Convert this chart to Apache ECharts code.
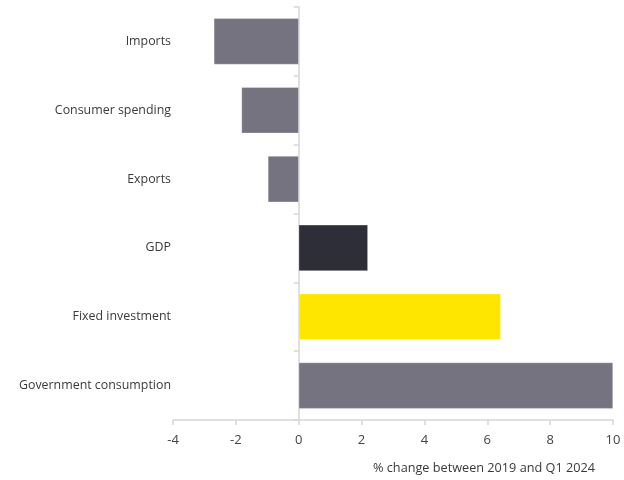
<!DOCTYPE html>
<html>
<head>
<meta charset="utf-8">
<script src="https://cdn.jsdelivr.net/npm/echarts@6/dist/echarts.min.js"></script>
<style>
  html, body { margin: 0; padding: 0; background: #ffffff; }
  #chart { width: 624px; height: 480px; }
</style>
</head>
<body>
<div id="chart"></div>
<script>
// Components of real GDP growth, top to bottom
const categories = ['Imports', 'Consumer spending', 'Exports', 'GDP', 'Fixed investment', 'Government consumption'];
const changes = [-2.7, -1.82, -0.98, 2.2, 6.43, 10.0];
const barColors = ['#75737f', '#75737f', '#75737f', '#2e2e38', '#ffe600', '#75737f'];
const xTicks = { min: -4, max: 10, interval: 2 };
const axisTitle = '% change between 2019 and Q1 2024';

const textColor = '#3a3a3a';
const lineColor = '#d6d6d9';
const fontFamily = '"Open Sans", "Noto Sans", sans-serif';

const chart = echarts.init(document.getElementById('chart'), null, { renderer: 'canvas' });

chart.setOption({
  animation: false,
  backgroundColor: '#ffffff',
  textStyle: { fontFamily: fontFamily },
  title: {
    text: axisTitle,
    right: 24,
    top: 457,
    textStyle: { fontSize: 12.7, fontWeight: 'normal', color: textColor, fontFamily: fontFamily }
  },
  grid: { left: 173, right: 11, top: 7, bottom: 60, containLabel: false },
  xAxis: {
    type: 'value',
    min: xTicks.min,
    max: xTicks.max,
    interval: xTicks.interval,
    axisLine: { show: true, onZero: false, lineStyle: { color: lineColor, width: 1.5 } },
    axisTick: { show: true, length: 5, lineStyle: { color: lineColor, width: 1.5 } },
    axisLabel: { color: '#444444', fontSize: 13, margin: 14, fontFamily: fontFamily },
    splitLine: { show: false }
  },
  yAxis: [
    {
      // category labels on the left edge
      type: 'category',
      data: categories,
      inverse: true,
      position: 'left',
      axisLine: { show: false, onZero: false },
      axisTick: { show: false },
      axisLabel: {
        color: textColor, fontSize: 12.4, margin: 2, fontFamily: fontFamily,
        padding: [6, 0, 0, 0]
      }
    },
    {
      // baseline at zero with category ticks
      type: 'category',
      data: categories,
      inverse: true,
      position: 'left',
      axisLine: { show: true, onZero: true, lineStyle: { color: lineColor, width: 1.5 } },
      axisTick: { show: true, length: 5, lineStyle: { color: lineColor, width: 1.5 } },
      axisLabel: { show: false }
    }
  ],
  series: [
    {
      type: 'bar',
      yAxisIndex: 0,
      barWidth: '67%',
      data: changes.map((v, i) => ({ value: v, itemStyle: { color: barColors[i] } })),
      itemStyle: { borderColor: 'rgba(255,255,255,0.6)', borderWidth: 0.5 }
    }
  ]
});
</script>
</body>
</html>
